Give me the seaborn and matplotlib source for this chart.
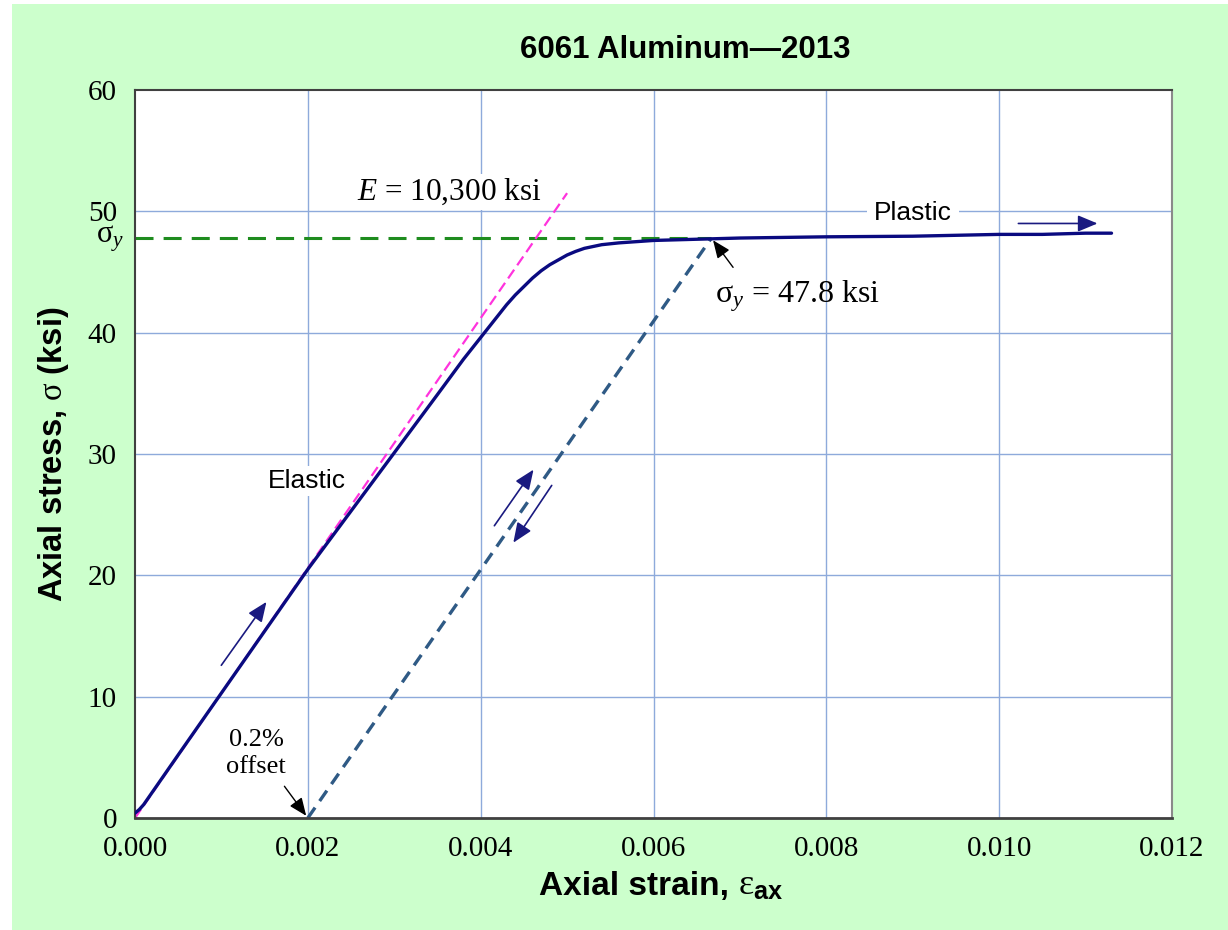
import numpy as np
import pandas as pd
import matplotlib
matplotlib.use('Agg')
import matplotlib.pyplot as plt
import seaborn as sns
from matplotlib.patches import Rectangle

# Stress-strain data
strain = [0.0, 0.00005, 0.0001, 0.0005, 0.001, 0.0015, 0.002, 0.0025, 0.003, 0.0035,
          0.0038, 0.004, 0.0041, 0.0042, 0.0043, 0.0044, 0.0045, 0.0046, 0.0047,
          0.0048, 0.0049, 0.005, 0.0051, 0.0052, 0.0053, 0.0054, 0.0056, 0.0058,
          0.006, 0.0065, 0.007, 0.008, 0.009, 0.010, 0.0105, 0.011, 0.0113]
stress = [0.4, 0.7, 1.1, 5.2, 10.3, 15.4, 20.5, 25.3, 30.1, 34.9,
          37.8, 39.6, 40.5, 41.4, 42.3, 43.1, 43.8, 44.5, 45.1,
          45.6, 46.0, 46.4, 46.7, 46.95, 47.1, 47.25, 47.4, 47.5,
          47.6, 47.7, 47.8, 47.9, 47.95, 48.1, 48.1, 48.2, 48.2]

# reference lines
modulus_x = [0.0, 0.005]
modulus_y = [0.0, 51.5]
offset_x = [0.002, 0.00667]
offset_y = [0.0, 47.8]
yield_x = [0.0, 0.00667]
yield_y = [47.8, 47.8]
sigma_y = 47.8

xticks = [0.000, 0.002, 0.004, 0.006, 0.008, 0.010, 0.012]
yticks = [0, 10, 20, 30, 40, 50, 60]

df = pd.DataFrame({'strain': strain, 'stress': stress})

sns.set_style('white')
plt.rcParams['font.family'] = ['Liberation Sans', 'DejaVu Sans']
plt.rcParams['mathtext.fontset'] = 'custom'
plt.rcParams['mathtext.rm'] = 'Liberation Serif'
plt.rcParams['mathtext.it'] = 'Liberation Serif:italic'
plt.rcParams['mathtext.bf'] = 'Liberation Sans:bold'
plt.rcParams['text.color'] = 'black'
plt.rcParams['axes.labelcolor'] = 'black'
plt.rcParams['xtick.color'] = 'black'
plt.rcParams['ytick.color'] = 'black'

fig = plt.figure(figsize=(12.28, 9.30), dpi=100)
fig.patch.set_facecolor('white')
fig.patches.append(Rectangle((12 / 1228, 0), 1 - 12 / 1228, 1 - 4 / 930,
                             transform=fig.transFigure, facecolor='#ccffcc',
                             edgecolor='none', zorder=-10))
ax = fig.add_axes([135 / 1228, 1 - 818 / 930, (1172 - 135) / 1228, (818 - 90) / 930])
ax.set_facecolor('white')

grid_c = '#8eaadb'
for gx in xticks[1:-1]:
    ax.axvline(gx, color=grid_c, lw=1, zorder=0)
for gy in yticks[1:-1]:
    ax.axhline(gy, color=grid_c, lw=1, zorder=0)

ax.plot(yield_x, yield_y, color='#1e8c1e', lw=2.2, dashes=(5.9, 3.3), zorder=2)
ax.plot(modulus_x, modulus_y, color='#ff33dd', lw=1.6, dashes=(4.8, 2.4), zorder=2)
ax.plot(offset_x, offset_y, color='#2f5a85', lw=2.4, dashes=(3.8, 2.4), zorder=2)
sns.lineplot(data=df, x='strain', y='stress', color='#0a0a80', lw=2.4, ax=ax, zorder=3)

ax.set_xlim(0, 0.012)
ax.set_ylim(0, 60)
ax.set_xticks(xticks)
ax.set_yticks(yticks)
serif = 'Liberation Serif'
ax.set_xticklabels(['%.3f' % t for t in xticks], fontfamily=serif, fontsize=21)
ax.set_yticklabels([str(t) for t in yticks], fontfamily=serif, fontsize=21)
ax.tick_params(axis='y', length=0, pad=13)
ax.tick_params(axis='x', length=0, pad=13)
ax.text(-0.00013, 47.4, r'$\mathrm{\sigma}_{y}$', fontsize=22, ha='right', va='baseline')

for s in ['left', 'bottom', 'top', 'right']:
    ax.spines[s].set_color('#404040')
    ax.spines[s].set_linewidth(1.5)
ax.spines['right'].set_color('#8a8a8a')
ax.spines['bottom'].set_linewidth(2)

fig.text(685 / 1228, 1 - 50 / 930, '6061 Aluminum\u20142013', fontsize=22.5,
         fontweight='bold', ha='center', va='center')
ax.set_ylabel(r'Axial stress, $\mathrm{\sigma}$ (ksi)', fontsize=23.5,
              fontweight='bold', labelpad=12)
ax.set_xlabel('')
fig.text(738 / 1228, 1 - 895 / 930, 'Axial strain, ', fontsize=24,
         fontweight='bold', ha='right', va='baseline')
fig.text(738 / 1228, 1 - 895 / 930,
         r'$\mathrm{\varepsilon}_{\mathbf{ax}}$', fontsize=26, ha='left', va='baseline')

box = dict(facecolor='white', edgecolor='none', pad=2)
ax.text(0.00257, 51.6, r'$E$ = 10,300 ksi', fontfamily=serif, fontsize=22.5,
        ha='left', va='center', bbox=box, zorder=4)
ax.text(0.00154, 27.8, 'Elastic', fontsize=19, ha='left', va='center', bbox=box, zorder=4)
ax.text(0.00855, 49.9, 'Plastic', fontsize=19, ha='left', va='center',
        bbox=dict(facecolor='white', edgecolor='none', pad=5), zorder=4)
ax.text(0.00671, 43.0, r'$\mathrm{\sigma}_{y}$ = 47.8 ksi', fontfamily=serif, fontsize=23,
        ha='left', va='center', zorder=4)
ax.text(0.0014, 5.3, '0.2%\noffset', fontfamily=serif, fontsize=19,
        ha='center', va='center', linespacing=1.3, zorder=4)

navy = '#1a1a80'
arrow = dict(arrowstyle='-|>,head_length=0.6,head_width=0.25', color=navy, lw=1.2,
             mutation_scale=20)
ax.annotate('', xy=(0.00154, 18.0), xytext=(0.00098, 12.4), arrowprops=arrow)
ax.annotate('', xy=(0.00463, 28.9), xytext=(0.00414, 23.9), arrowprops=arrow)
ax.annotate('', xy=(0.00436, 22.5), xytext=(0.00484, 27.6), arrowprops=arrow)
ax.annotate('', xy=(0.01117, 49.0), xytext=(0.01019, 49.0), arrowprops=arrow)

black_arrow = dict(arrowstyle='-|>,head_length=0.6,head_width=0.25', color='black',
                   lw=1, mutation_scale=18)
ax.annotate('', xy=(0.00667, 47.8), xytext=(0.00694, 45.2), arrowprops=black_arrow)
ax.annotate('', xy=(0.002, 0.0), xytext=(0.00171, 2.8), arrowprops=black_arrow)

fig.savefig('out.png', dpi=100)
